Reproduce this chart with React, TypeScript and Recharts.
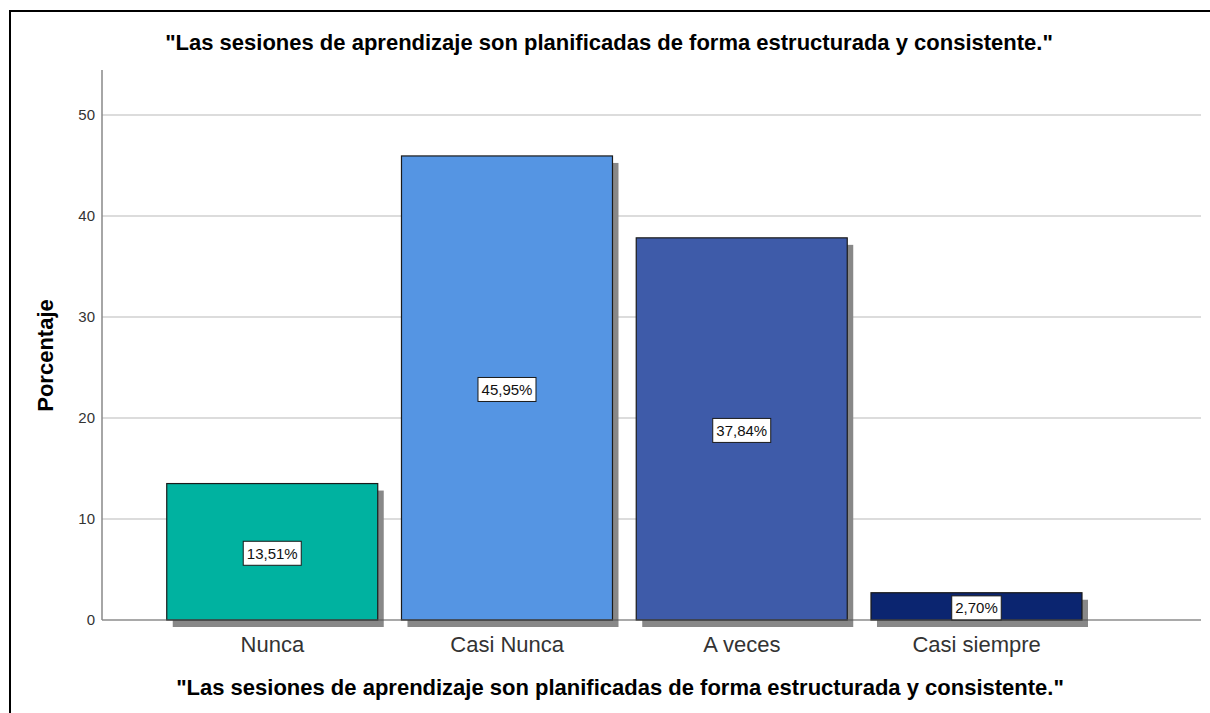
import React from 'react';
import { BarChart, Bar, XAxis, YAxis, CartesianGrid, Cell, LabelList } from 'recharts';

const categories = ['Nunca', 'Casi Nunca', 'A veces', 'Casi siempre'];
const percentages = [13.51, 45.95, 37.84, 2.7];
const valueLabels = ['13,51%', '45,95%', '37,84%', '2,70%'];
const barColors = ['#00B2A0', '#5595E3', '#3E5BA9', '#0B2570'];
const yTicks = [0, 10, 20, 30, 40, 50];
const gridValues = [10, 20, 30, 40, 50];
const titleText = '"Las sesiones de aprendizaje son planificadas de forma estructurada y consistente."';
const yTitle = 'Porcentaje';

const data = categories.map((c, i) => ({ name: c, value: percentages[i], label: valueLabels[i] }));

const FONT = '"Liberation Sans", Arial, sans-serif';

const ShadowBar = (props: any) => {
  const { x, y, width, height, fill } = props;
  if (width == null || height == null) return null;
  return (
    <g>
      <rect x={x + 6} y={y + 7} width={width} height={height} fill="#888888" />
      <rect x={x} y={y} width={width} height={height} fill={fill} stroke="#1a1a1a" strokeWidth={1.2} />
    </g>
  );
};

const ValueLabel = (props: any) => {
  const { x, y, width, height, value } = props;
  const text = String(value);
  const w = text.length * 8.5 + 7;
  const h = 24;
  const cx = x + width / 2;
  const cy = y + height / 2 + 1.5;
  return (
    <g>
      <rect x={cx - w / 2} y={cy - h / 2} width={w} height={h} fill="#ffffff" stroke="#1a1a1a" strokeWidth={1} />
      <text x={cx} y={cy + 5.5} textAnchor="middle" fontSize={15} fontFamily={FONT} fill="#111">
        {text}
      </text>
    </g>
  );
};

export default function App() {
  return (
    <div style={{ position: 'absolute', left: 0, top: 0, width: 1210, height: 713, background: '#fff', overflow: 'hidden' }}>
      <div
        style={{
          position: 'absolute',
          left: 9,
          top: 10,
          width: 1230,
          height: 720,
          borderTop: '2px solid #000',
          borderLeft: '2px solid #000',
        }}
      />
      <div style={{ position: 'absolute', left: 0, top: 0 }}>
        <BarChart
          width={1210}
          height={713}
          data={data}
          margin={{ top: 70, right: 9, bottom: 0, left: 0 }}
          barCategoryGap="5%"
        >
          <CartesianGrid vertical={false} horizontalValues={gridValues} stroke="#d0d0d0" strokeWidth={1.5} />
          <XAxis
            dataKey="name"
            height={93}
            padding={{ left: 53, right: 107 }}
            tickLine={false}
            tickSize={0}
            tickMargin={16}
            axisLine={{ stroke: '#555', strokeWidth: 1.2 }}
            tick={{ fontSize: 22, fill: '#333', fontFamily: FONT }}
          />
          <YAxis
            width={102}
            domain={[0, 54.46]}
            ticks={yTicks}
            interval={0}
            tickLine={false}
            tickSize={0}
            tickMargin={7}
            axisLine={{ stroke: '#888', strokeWidth: 1.5 }}
            tick={{ fontSize: 15, fill: '#333', fontFamily: FONT }}
          />
          <Bar dataKey="value" isAnimationActive={false} shape={ShadowBar}>
            {data.map((d, i) => (
              <Cell key={d.name} fill={barColors[i]} />
            ))}
            <LabelList dataKey="label" content={ValueLabel} />
          </Bar>
        </BarChart>
      </div>
      <svg width={1210} height={713} style={{ position: 'absolute', left: 0, top: 0, pointerEvents: 'none' }}>
        <text x={609} y={50} textAnchor="middle" fontSize={22} fontWeight="bold" fontFamily={FONT} fill="#000">
          {titleText}
        </text>
        <text x={620} y={695} textAnchor="middle" fontSize={22} fontWeight="bold" fontFamily={FONT} fill="#000">
          {titleText}
        </text>
        <text
          x={53}
          y={355.5}
          transform="rotate(-90 53 355.5)"
          textAnchor="middle"
          fontSize={22}
          fontWeight="bold"
          fontFamily={FONT}
          fill="#000"
        >
          {yTitle}
        </text>
      </svg>
    </div>
  );
}
